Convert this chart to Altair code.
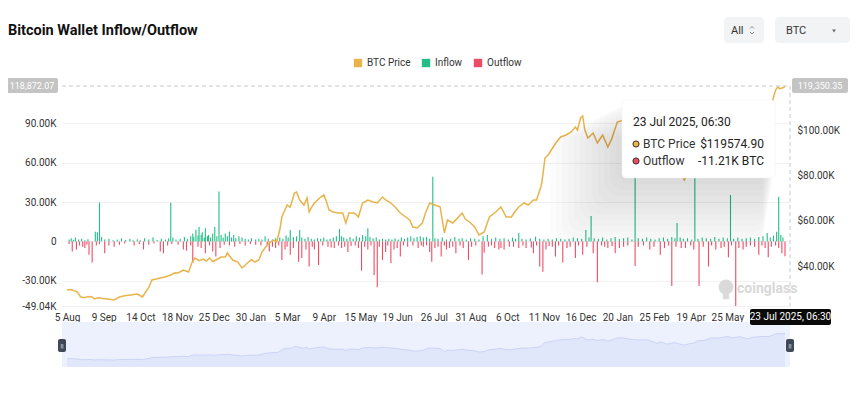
import altair as alt
import pandas as pd

# ---------------- data ----------------
# category axis: one labelled tick every 35 categories
tick_labels = ["5 Aug", "9 Sep", "14 Oct", "18 Nov", "25 Dec", "30 Jan", "5 Mar", "9 Apr",
               "15 May", "19 Jun", "26 Jul", "31 Aug", "6 Oct", "11 Nov", "16 Dec", "20 Jan",
               "25 Feb", "19 Apr", "25 May"]
tick_step = 35
n_points = 686

# BTC price (thousand USD) at category index
price = [(0, 29.36), (4, 29.6), (10, 28.47), (13, 26.26), (17, 26.0), (20, 26.5), (24, 26.26),
         (26, 25.37), (30, 25.9), (34, 25.6), (39, 25.37), (45, 24.93), (50, 26.26), (55, 26.8),
         (61, 27.14), (67, 27.59), (72, 26.26), (75, 28.47), (78, 30.5), (81, 33.79), (85, 34.2),
         (89, 34.68), (94, 35.2), (99, 36.01), (103, 37.0), (106, 36.90), (111, 38.23),
         (116, 37.34), (119, 41.33), (122, 43.55), (126, 42.4), (130, 43.10), (133, 42.2),
         (136, 43.55), (139, 42.0), (142, 42.66), (147, 43.99), (151, 43.99), (153, 45.76),
         (158, 42.66), (163, 41.77), (167, 39.11), (170, 40.3), (172, 41.33), (176, 42.8),
         (179, 41.77), (183, 42.66), (186, 46.21), (191, 49.31), (194, 50.64), (197, 51.5),
         (200, 50.64), (203, 55.96), (205, 61.72), (207, 63.94), (210, 67.04), (213, 66.0),
         (215, 69.26), (217, 72.36), (219, 72.81), (222, 69.26), (226, 67.04), (229, 70.15),
         (231, 63.94), (234, 66.5), (236, 67.93), (241, 70.15), (245, 71.48), (247, 69.26),
         (250, 64.83), (254, 63.94), (259, 63.50), (263, 63.50), (266, 59.06), (269, 63.50),
         (274, 63.50), (278, 61.72), (282, 67.93), (287, 69.26), (292, 68.37), (296, 67.93),
         (301, 70.59), (304, 69.26), (309, 67.93), (313, 66.16), (318, 63.50), (323, 61.72),
         (327, 60.39), (330, 57.29), (334, 56.85), (339, 59.06), (342, 63.50), (346, 67.93),
         (351, 67.04), (356, 66.16), (360, 54.63), (363, 60.39), (368, 59.06), (372, 61.0),
         (377, 63.50), (380, 60.8), (384, 59.51), (389, 57.29), (393, 53.74), (398, 55.07),
         (403, 61.72), (409, 63.94), (414, 66.16), (419, 61.72), (424, 61.72), (428, 64.5),
         (431, 66.16), (436, 67.93), (440, 67.04), (445, 69.26), (448, 69.26), (452, 75.02),
         (453, 76.80), (456, 87.88), (459, 89.21), (462, 91.43), (467, 94.97), (471, 97.19),
         (476, 98.08), (481, 99.41), (485, 101.62), (487, 100.29), (490, 105.61), (492, 106.50),
         (494, 100.29), (497, 96.75), (502, 98.96), (506, 94.53), (511, 98.08), (516, 92.76),
         (520, 96.75), (525, 103.84),
         (530, 104.5), (535, 100.5), (540, 97.5), (545, 96.5), (550, 97.0), (555, 96.0),
         (560, 88.5), (563, 84.5), (566, 90.0), (569, 86.0), (572, 82.0), (576, 84.0),
         (580, 87.0), (584, 82.5), (589, 78.13), (594, 83.5), (598, 85.0), (602, 93.5),
         (606, 94.5), (610, 97.0), (614, 103.5), (618, 104.0), (622, 103.0), (626, 106.0),
         (630, 109.5), (634, 104.5), (638, 105.5), (642, 108.0), (646, 104.0), (650, 101.0),
         (654, 106.0), (658, 107.5), (662, 108.5), (666, 109.0), (669, 108.27), (673, 113.0),
         (676, 118.0), (678, 119.3), (680, 118.6), (683, 119.0), (685, 119.57)]

# inflow (thousand BTC) at category index
inflow = [(2, 1.5), (4, 2.5), (6, 1.2), (8, 3.0), (11, 1.5), (14, 2.0), (17, 1.0), (20, 1.8),
          (27, 7.5), (29, 7.0), (31, 29.6), (33, 3.5), (36, 1.5), (40, 2.0), (44, 1.0), (48, 1.5),
          (52, 2.5), (56, 1.2), (60, 2.0), (63, 1.0), (67, 1.8), (70, 1.0), (74, 2.5), (78, 1.5),
          (82, 3.0), (86, 1.2), (90, 2.0), (94, 1.5), (97, 2.5), (99, 29.5), (101, 3.0), (104, 1.5),
          (108, 2.0), (112, 3.5), (115, 2.0), (118, 4.0), (120, 6.0), (121, 3.5), (123, 9.0),
          (125, 4.5), (126, 11.0), (128, 5.0), (129, 7.0), (131, 3.0), (132, 10.0), (134, 4.0),
          (135, 5.0), (137, 3.0), (139, 6.0), (141, 11.0), (143, 4.0), (145, 38.0), (147, 5.0),
          (149, 3.0), (151, 6.0), (153, 4.0), (155, 7.5), (157, 3.0), (159, 5.0), (161, 2.5),
          (164, 4.0), (167, 3.0), (170, 2.0), (173, 1.5), (176, 2.5), (180, 1.5), (183, 2.0),
          (186, 1.5), (189, 4.0), (192, 2.0), (196, 1.5), (199, 2.5), (203, 3.0), (206, 2.0),
          (209, 4.5), (211, 3.0), (213, 8.7), (216, 3.5), (219, 4.0), (222, 8.7), (224, 3.0),
          (227, 2.0), (230, 3.5), (233, 2.0), (236, 1.5), (239, 2.5), (242, 2.0), (245, 3.0),
          (248, 1.5), (251, 2.0), (254, 3.0), (257, 4.0), (260, 9.5), (262, 4.0), (264, 3.0),
          (267, 2.0), (270, 3.5), (273, 2.0), (276, 4.0), (279, 3.0), (282, 5.0), (285, 4.0),
          (287, 10.0), (289, 3.5), (292, 2.5), (295, 3.0), (298, 1.5), (301, 2.0), (304, 1.5),
          (307, 2.0), (310, 1.5), (313, 2.5), (316, 1.5), (319, 3.0), (322, 2.0), (325, 3.0),
          (328, 4.0), (331, 2.5), (334, 3.5), (337, 4.0), (340, 3.0), (343, 3.5), (346, 2.0),
          (349, 49.3), (351, 2.5), (354, 2.0), (358, 3.0), (362, 1.5), (366, 2.0), (370, 3.4),
          (374, 2.0), (377, 2.5), (381, 1.5), (385, 2.5), (389, 2.0), (393, 1.5), (397, 4.0),
          (401, 5.0), (405, 2.0), (409, 3.0), (413, 2.0), (417, 2.5), (421, 1.5), (425, 3.0),
          (428, 2.0), (431, 6.5), (434, 2.0), (438, 1.5), (442, 2.5), (447, 3.7), (451, 2.0),
          (455, 1.5), (459, 2.0), (463, 1.5), (467, 2.5), (471, 2.0), (475, 1.5), (479, 2.0),
          (483, 3.0), (487, 2.5), (491, 2.0), (495, 8.7), (498, 3.0), (500, 19.4), (503, 2.5),
          (507, 2.0), (511, 3.0), (515, 1.5), (519, 2.5), (523, 3.5), (527, 2.0), (531, 2.5),
          (535, 3.0), (539, 1.5), (542, 50.0), (545, 2.5), (549, 2.0), (553, 3.0), (557, 2.0),
          (561, 1.5), (565, 2.5), (569, 3.0), (573, 2.0), (577, 3.5), (580, 2.5), (582, 14.0),
          (585, 3.0), (588, 2.0), (592, 2.5), (596, 1.5), (599, 52.0), (602, 2.0), (606, 3.0),
          (610, 2.5), (614, 2.0), (618, 3.5), (622, 2.0), (626, 3.0), (630, 2.5), (633, 35.3),
          (636, 2.0), (640, 3.0), (644, 2.0), (648, 2.5), (652, 3.0), (656, 2.0), (660, 3.5),
          (664, 4.0), (668, 6.5), (671, 3.0), (674, 4.5), (677, 7.5), (679, 34.0), (681, 5.0),
          (683, 3.0)]

# outflow (thousand BTC) at category index
outflow = [(2, -2.0), (5, -7.7), (9, -6.0), (12, -3.0), (15, -4.0), (17, -5.0), (19, -2.5),
           (21, -10.0), (24, -16.0), (28, -3.0), (31, -2.0), (36, -9.0), (40, -3.0), (45, -4.0),
           (50, -2.5), (55, -1.5), (64, -3.0), (69, -2.0), (73, -6.0), (78, -2.5), (83, -1.5),
           (89, -7.7), (92, -9.0), (96, -3.0), (100, -2.0), (106, -2.5), (111, -6.0), (114, -7.0),
           (118, -3.0), (120, -16.4), (125, -4.0), (128, -5.0), (132, -9.0), (136, -3.0),
           (139, -7.7), (142, -11.5), (146, -5.0), (150, -2.5), (155, -3.0), (160, -4.0),
           (165, -2.0), (170, -3.0), (175, -2.0), (180, -2.5), (185, -3.0), (191, -3.0),
           (193, -7.7), (196, -4.0), (199, -5.0), (202, -3.0), (205, -14.0), (208, -6.0),
           (210, -4.0), (213, -10.0), (216, -5.0), (221, -15.4), (224, -12.5), (228, -6.0),
           (231, -19.0), (234, -4.0), (236, -6.0), (240, -17.9), (244, -3.0), (249, -4.0),
           (252, -4.5), (255, -5.0), (259, -3.0), (262, -5.0), (265, -4.0), (268, -8.0),
           (271, -3.5), (275, -3.0), (278, -5.0), (281, -22.2), (284, -4.0), (287, -6.0),
           (290, -3.0), (293, -25.5), (296, -34.8), (298, -4.0), (301, -14.0), (304, -8.0),
           (306, -3.0), (309, -16.4), (312, -6.0), (315, -5.0), (318, -11.5), (321, -3.0),
           (325, -4.0), (330, -3.0), (335, -5.0), (338, -3.0), (340, -4.0), (343, -3.0),
           (346, -8.0), (348, -15.4), (351, -5.0), (354, -4.0), (357, -11.5), (360, -3.0),
           (362, -6.0), (365, -5.0), (368, -4.0), (371, -9.0), (375, -3.0), (378, -5.0),
           (383, -14.0), (386, -4.0), (390, -3.0), (396, -25.0), (398, -8.6), (402, -4.0),
           (405, -3.0), (408, -5.0), (412, -6.0), (414, -5.0), (417, -6.0), (422, -4.0),
           (426, -4.0), (431, -5.0), (435, -3.0), (438, -5.0), (443, -4.5), (445, -9.0),
           (448, -3.0), (451, -19.0), (454, -23.0), (457, -6.0), (460, -3.5), (463, -4.0),
           (466, -11.5), (469, -3.0), (473, -16.0), (477, -5.0), (480, -4.0), (485, -12.5),
           (488, -3.0), (492, -10.0), (496, -4.0), (502, -9.0), (506, -31.0), (510, -3.0),
           (513, -4.0), (516, -5.0), (520, -3.5), (523, -9.0), (527, -5.0), (531, -4.0),
           (535, -3.0), (542, -18.6), (545, -4.0), (550, -3.0), (556, -6.0), (560, -4.0),
           (566, -10.0), (570, -5.0), (574, -3.0), (577, -33.8), (581, -4.0), (586, -5.0),
           (590, -5.0), (595, -3.0), (598, -6.0), (603, -33.8), (607, -4.0), (612, -19.0),
           (615, -3.0), (619, -6.0), (624, -5.0), (627, -4.0), (631, -12.0), (634, -3.0),
           (638, -49.04), (641, -5.0), (645, -6.0), (648, -4.0), (652, -3.0), (656, -4.0),
           (660, -10.0), (663, -3.0), (666, -5.0), (669, -12.0), (672, -4.0), (676, -3.0),
           (679, -5.0), (682, -9.0), (685, -11.21)]

series_names = ["BTC Price", "Inflow", "Outflow"]
series_colors = ["#E8B44B", "#22BE86", "#F04B64"]

left_ticks = [-49.04, -30, 0, 30, 60, 90]
right_ticks = [40, 60, 80, 100]

pointer_left = "118,872.07"
pointer_right = "119,350.35"
pointer_time = "23 Jul 2025, 06:30"
tip_rows = [("BTC Price", "$119574.90"), ("Outflow", "-11.21K BTC")]

# ---------------- frames ----------------
price_df = pd.DataFrame(price, columns=["idx", "price"])
price_df["series"] = "BTC Price"
flow_df = pd.concat([
    pd.DataFrame([(i, v, "Inflow") for i, v in inflow], columns=["idx", "value", "type"]),
    pd.DataFrame([(i, v, "Outflow") for i, v in outflow], columns=["idx", "value", "type"]),
])
one = pd.DataFrame({"a": [0]})

# ---------------- layout helpers (page px -> view px) ----------------
OX, OY = 62, 84
W, H = 728, 283
MAIN_BOTTOM = 306 - OY


def vx(px):
    return px - OX


def vy(py):
    return py - OY


FONT = "Roboto"
js_labels = "[" + ",".join("'" + t + "'" for t in tick_labels) + "]"

x_enc = alt.X(
    "idx:Q",
    scale=alt.Scale(domain=[0, n_points - 1], nice=False, zero=False),
    axis=alt.Axis(values=[i * tick_step for i in range(len(tick_labels))],
                  labelExpr=js_labels + "[round(datum.value/" + str(tick_step) + ")]",
                  offset=-(H - MAIN_BOTTOM), domain=False, ticks=False, grid=False,
                  labelPadding=6, labelFontSize=10, labelColor="#333", labelFont=FONT,
                  labelOverlap=False, labelFlush=False, title=None),
)

bars = alt.Chart(flow_df).mark_bar(size=1.1).encode(
    x=x_enc,
    y=alt.Y("value:Q",
            scale=alt.Scale(domain=[-49.04, 119.73], range=[MAIN_BOTTOM, 0], nice=False, zero=False),
            axis=alt.Axis(orient="left", values=left_ticks,
                          labelExpr="datum.value == 0 ? '0' : (datum.value < 0 ? '-' : '') + format(abs(datum.value), '.2f') + 'K'",
                          grid=True, gridColor="#f1f1f1", gridWidth=1, domain=False, ticks=False,
                          labelPadding=6, labelFontSize=10, labelColor="#333", labelFont=FONT, title=None)),
    y2=alt.datum(0),
    color=alt.Color("type:N", scale=alt.Scale(domain=series_names, range=series_colors),
                    legend=alt.Legend(orient="none", legendX=291, legendY=-26, direction="horizontal",
                                      title=None, symbolType="square", symbolSize=70,
                                      symbolStrokeWidth=0, labelFontSize=10, labelColor="#333",
                                      labelFont=FONT, columnPadding=10, labelOffset=4, padding=0)),
)

line = alt.Chart(price_df).mark_line(strokeWidth=1.5).encode(
    x=alt.X("idx:Q"),
    y=alt.Y("price:Q",
            scale=alt.Scale(domain=[22.27, 120.68], range=[MAIN_BOTTOM, 0], nice=False, zero=False),
            axis=alt.Axis(orient="right", values=right_ticks,
                          labelExpr="'$' + format(datum.value, '.2f') + 'K'",
                          grid=False, domain=False, ticks=False, labelPadding=7,
                          labelFontSize=10, labelColor="#333", labelFont=FONT, title=None)),
    color=alt.Color("series:N"),
)

# slider (data zoom) below the x axis
band = alt.Chart(one).mark_rect(color="#edf0fd").encode(
    x=alt.value(0), x2=alt.value(W), y=alt.value(vy(322)), y2=alt.value(vy(367)))
shadow = alt.Chart(price_df).mark_area(color="#dce3fa", line={"color": "#c3cdf2", "strokeWidth": 0.8}).encode(
    x=alt.X("idx:Q"),
    y=alt.Y("price:Q", scale=alt.Scale(domain=[0, 125], range=[vy(367), vy(332)], nice=False, zero=False),
            axis=None),
    y2=alt.datum(0),
)
handles = []
for hx in (62, 790):
    handles.append(alt.Chart(one).mark_rect(color="#3f4857", cornerRadius=2).encode(
        x=alt.value(vx(hx - 4)), x2=alt.value(vx(hx + 4)), y=alt.value(vy(339)), y2=alt.value(vy(352))))
    handles.append(alt.Chart(one).mark_text(text="||", color="#ffffff", fontSize=6, font=FONT).encode(
        x=alt.value(vx(hx)), y=alt.value(vy(345.5))))

# axis pointer
pointer = [
    alt.Chart(one).mark_rule(color="#c9c9c9", strokeDash=[4, 3], strokeWidth=1).encode(
        x=alt.value(0), x2=alt.value(W), y=alt.value(vy(86))),
    alt.Chart(one).mark_rule(color="#c9c9c9", strokeDash=[4, 3], strokeWidth=1).encode(
        x=alt.value(W), y=alt.value(vy(86)), y2=alt.value(MAIN_BOTTOM)),
]

# watermark
watermark = [
    alt.Chart(one).mark_point(shape="circle", filled=True, color="#dadada", size=220, opacity=1).encode(
        x=alt.value(vx(726)), y=alt.value(vy(287))),
    alt.Chart(one).mark_point(shape="square", filled=True, color="#dadada", size=40, opacity=1).encode(
        x=alt.value(vx(726)), y=alt.value(vy(296))),
    alt.Chart(one).mark_text(text="coinglass", color="#d8d8d8", fontSize=14, fontWeight="bold",
                             font=FONT, align="left", baseline="middle").encode(
        x=alt.value(vx(737)), y=alt.value(vy(289))),
]

# tooltip with soft shadow
tip_x0, tip_x1, tip_y0, tip_y1 = 622, 775, 100, 178
tip_layers = []
for k in range(12, 0, -1):
    tip_layers.append(alt.Chart(one).mark_rect(color="#000000", opacity=0.011, cornerRadius=14).encode(
        x=alt.value(vx(tip_x0 - 6 * k)), x2=alt.value(vx(tip_x1 - 1 * k)),
        y=alt.value(vy(tip_y0 + 3 * k)), y2=alt.value(vy(tip_y1 + 6 * k))))
tip_layers.append(alt.Chart(one).mark_rect(color="#ffffff", cornerRadius=4, stroke="#eeeeee", strokeWidth=0.5).encode(
    x=alt.value(vx(tip_x0)), x2=alt.value(vx(tip_x1)), y=alt.value(vy(tip_y0)), y2=alt.value(vy(tip_y1))))
tip_layers.append(alt.Chart(one).mark_text(text=pointer_time, color="#222", fontSize=12, font=FONT,
                                           align="left", baseline="middle").encode(
    x=alt.value(vx(633)), y=alt.value(vy(122))))
row_colors = [series_colors[0], series_colors[2]]
for r, ((name, val), col) in enumerate(zip(tip_rows, row_colors)):
    ry = 144 + 17 * r
    tip_layers.append(alt.Chart(one).mark_point(shape="circle", filled=True, fill=col, stroke="#333",
                                                strokeWidth=1, size=38, opacity=1).encode(
        x=alt.value(vx(636)), y=alt.value(vy(ry))))
    tip_layers.append(alt.Chart(one).mark_text(text=name, color="#333", fontSize=12, font=FONT,
                                               align="left", baseline="middle").encode(
        x=alt.value(vx(643)), y=alt.value(vy(ry))))
    tip_layers.append(alt.Chart(one).mark_text(text=val, color="#222", fontSize=12, font=FONT,
                                               align="right", baseline="middle").encode(
        x=alt.value(vx(764)), y=alt.value(vy(ry))))

# pointer value labels
plabels = [
    alt.Chart(one).mark_rect(color="#c4c4c4", cornerRadius=2).encode(
        x=alt.value(vx(6)), x2=alt.value(vx(58)), y=alt.value(vy(78)), y2=alt.value(vy(93))),
    alt.Chart(one).mark_text(text=pointer_left, color="#ffffff", fontSize=9, font=FONT).encode(
        x=alt.value(vx(32)), y=alt.value(vy(85.5))),
    alt.Chart(one).mark_rect(color="#c4c4c4", cornerRadius=2).encode(
        x=alt.value(vx(792)), x2=alt.value(vx(848)), y=alt.value(vy(78)), y2=alt.value(vy(93))),
    alt.Chart(one).mark_text(text=pointer_right, color="#ffffff", fontSize=9, font=FONT).encode(
        x=alt.value(vx(820)), y=alt.value(vy(85.5))),
    alt.Chart(one).mark_rect(color="#0a0a0a", cornerRadius=2).encode(
        x=alt.value(vx(750)), x2=alt.value(vx(831)), y=alt.value(vy(309)), y2=alt.value(vy(325))),
    alt.Chart(one).mark_text(text=pointer_time, color="#ffffff", fontSize=10, font=FONT).encode(
        x=alt.value(vx(790.5)), y=alt.value(vy(317))),
]

# header: title and controls (chevrons drawn as open path symbols)
chev_up = "M-1,0.5L0,-0.5L1,0.5"
chev_down = "M-1,-0.5L0,0.5L1,-0.5"
header = [
    alt.Chart(one).mark_text(text="Bitcoin Wallet Inflow/Outflow", color="#111", fontSize=14.5,
                             fontWeight="bold", font=FONT, align="left", baseline="middle").encode(
        x=alt.value(vx(8)), y=alt.value(vy(31))),
    alt.Chart(one).mark_rect(color="#f2f3f5", cornerRadius=4).encode(
        x=alt.value(vx(724)), x2=alt.value(vx(764)), y=alt.value(vy(17)), y2=alt.value(vy(43))),
    alt.Chart(one).mark_text(text="All", color="#333", fontSize=11, font=FONT, align="left",
                             baseline="middle").encode(x=alt.value(vx(731)), y=alt.value(vy(30.5))),
    alt.Chart(one).mark_point(shape=chev_up, filled=False, stroke="#888", strokeWidth=1, size=16,
                              opacity=1).encode(x=alt.value(vx(752)), y=alt.value(vy(27.5))),
    alt.Chart(one).mark_point(shape=chev_down, filled=False, stroke="#888", strokeWidth=1, size=16,
                              opacity=1).encode(x=alt.value(vx(752)), y=alt.value(vy(33))),
    alt.Chart(one).mark_rect(color="#f2f3f5", cornerRadius=4).encode(
        x=alt.value(vx(775)), x2=alt.value(vx(850)), y=alt.value(vy(17)), y2=alt.value(vy(43))),
    alt.Chart(one).mark_text(text="BTC", color="#333", fontSize=11, font=FONT, align="left",
                             baseline="middle").encode(x=alt.value(vx(786)), y=alt.value(vy(30.5))),
    alt.Chart(one).mark_point(shape="triangle-down", filled=True, color="#666", size=14,
                              opacity=1).encode(x=alt.value(vx(834)), y=alt.value(vy(31))),
]

chart = alt.layer(
    bars, line, band, shadow, *handles, *pointer, *watermark, *tip_layers, *plabels, *header
).resolve_scale(y="independent").properties(
    width=W, height=H,
    autosize=alt.AutoSizeParams(type="none"),
    padding={"left": OX - 8, "top": OY - 8, "right": 60, "bottom": 13},
).configure_view(stroke=None)

chart.save("out.html", embed_options={"renderer": "svg", "actions": False})
